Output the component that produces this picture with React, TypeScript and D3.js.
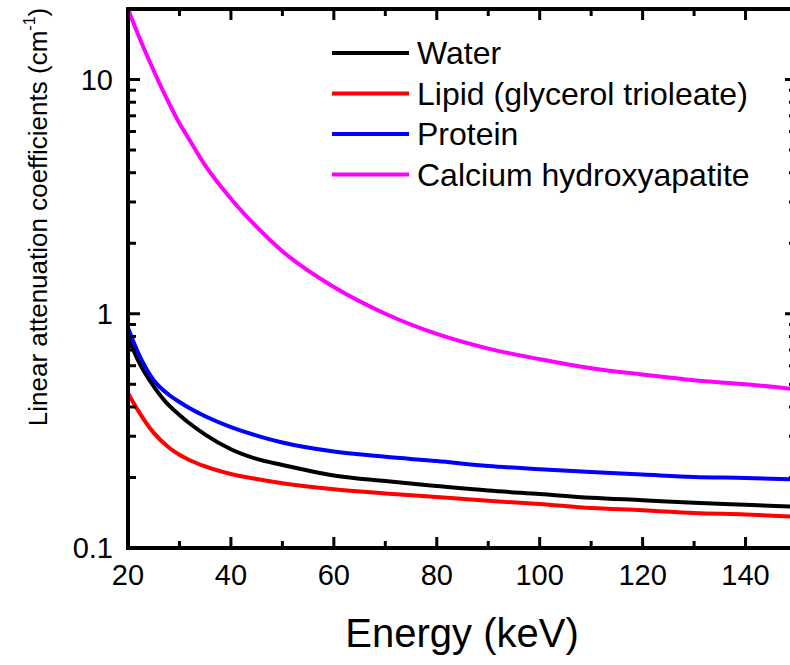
import React from 'react';
import * as d3 from 'd3';

// energies in keV, attenuation in cm^-1
const energy = [20, 22, 25, 28, 30, 32, 35, 40, 45, 50, 60, 70, 80, 90, 100, 110, 120, 130, 140, 150];
const water = [0.79, 0.63, 0.49, 0.405, 0.37, 0.34, 0.305, 0.264, 0.24, 0.226, 0.204, 0.193, 0.184, 0.176, 0.17, 0.164, 0.16, 0.156, 0.153, 0.15];
const lipid = [0.458, 0.385, 0.31, 0.268, 0.25, 0.237, 0.223, 0.207, 0.197, 0.189, 0.178, 0.171, 0.165, 0.159, 0.154, 0.148, 0.145, 0.141, 0.139, 0.136];
const protein = [0.87, 0.68, 0.52, 0.45, 0.42, 0.395, 0.365, 0.328, 0.302, 0.282, 0.258, 0.245, 0.235, 0.224, 0.217, 0.211, 0.206, 0.201, 0.199, 0.196];
const hydroxyapatite = [20, 15.5, 10.9, 7.9, 6.5, 5.5, 4.3, 3.1, 2.35, 1.85, 1.3, 1.0, 0.82, 0.71, 0.64, 0.585, 0.55, 0.52, 0.5, 0.475];

const seriesNames = ['Water', 'Lipid (glycerol trioleate)', 'Protein', 'Calcium hydroxyapatite'];
const seriesValues = [water, lipid, protein, hydroxyapatite];
const seriesColors = ['#000000', '#ff0000', '#0000ff', '#ff00ff'];

const xTickLabels = [20, 40, 60, 80, 100, 120, 140];
const yTickLabels = [0.1, 1, 10];

const W = 790;
const H = 665;
const left = 128;
const top = 9;
const bottom = 548;
const right = 797;
const font = 'Arial, "Liberation Sans", sans-serif';

const App = () => {
  const x = d3.scaleLinear().domain([20, 150]).range([left, right]);
  const y = d3.scaleLog().domain([0.1, 20]).range([bottom, top]);

  const line = d3
    .line<[number, number]>()
    .x((d) => x(d[0]))
    .y((d) => y(d[1]))
    .curve(d3.curveMonotoneX);

  const xTicks = d3.range(20, 151, 10);
  const yTicks = y.ticks().filter((v) => v < 20);
  const isMajorY = (v: number) => Math.abs(Math.log10(v) - Math.round(Math.log10(v))) < 1e-6;

  return (
    <svg width={W} height={H} style={{ position: 'absolute', left: 0, top: 0, background: '#fff' }}>
      <defs>
        <clipPath id="plot">
          <rect x={left} y={top} width={right - left} height={bottom - top} />
        </clipPath>
      </defs>

      <g clipPath="url(#plot)">
        {seriesValues.map((vals, i) => (
          <path
            key={seriesNames[i]}
            d={line(energy.map((e, j) => [e, vals[j]]) as [number, number][]) || ''}
            fill="none"
            stroke={seriesColors[i]}
            strokeWidth={4}
            strokeLinejoin="round"
          />
        ))}
      </g>

      {/* ticks, pointing inward on all four sides */}
      <g stroke="#000" strokeWidth={3}>
        {xTicks.map((v) => {
          const len = v % 20 === 0 ? 11 : 7;
          return (
            <g key={'x' + v}>
              <line x1={x(v)} x2={x(v)} y1={bottom} y2={bottom - len} />
              <line x1={x(v)} x2={x(v)} y1={top} y2={top + len} />
            </g>
          );
        })}
        {yTicks.map((v) => {
          const len = isMajorY(v) ? 12 : 8;
          return (
            <g key={'y' + v}>
              <line x1={left} x2={left + len} y1={y(v)} y2={y(v)} />
              <line x1={right} x2={right - len} y1={y(v)} y2={y(v)} />
            </g>
          );
        })}
      </g>

      <rect x={left} y={top} width={right - left} height={bottom - top} fill="none" stroke="#000" strokeWidth={4} />

      <g fontFamily={font} fontSize={29} fill="#000">
        {xTickLabels.map((v) => (
          <text key={'xl' + v} x={x(v)} y={585} textAnchor="middle">
            {v}
          </text>
        ))}
        {yTickLabels.map((v) => (
          <text key={'yl' + v} x={113} y={y(v)} dy="0.36em" textAnchor="end">
            {v}
          </text>
        ))}
      </g>

      <text x={462} y={647} textAnchor="middle" fontFamily={font} fontSize={40}>
        Energy (keV)
      </text>

      <text
        transform="translate(47,217) rotate(-90)"
        textAnchor="middle"
        fontFamily={font}
        fontSize={26}
      >
        Linear attenuation coefficients (cm
        <tspan fontSize={16} dy={-12}>
          -1
        </tspan>
        <tspan dy={12}>)</tspan>
      </text>

      <g fontFamily={font} fontSize={32}>
        {seriesNames.map((name, i) => {
          const ly = 53 + i * 40.5;
          return (
            <g key={'lg' + name}>
              <line x1={332} x2={409} y1={ly} y2={ly} stroke={seriesColors[i]} strokeWidth={4} />
              <text x={417} y={ly} dy="0.35em">
                {name}
              </text>
            </g>
          );
        })}
      </g>
    </svg>
  );
};

export default App;
